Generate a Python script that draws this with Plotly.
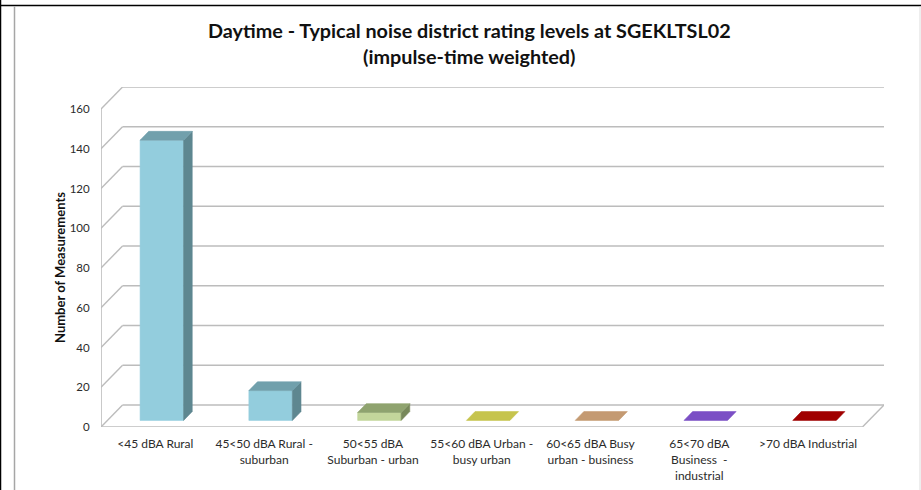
import plotly.graph_objects as go

# ---------------- data ----------------
categories = [
    "&lt;45 dBA Rural",
    "45&lt;50 dBA Rural -<br>suburban",
    "50&lt;55 dBA<br>Suburban - urban",
    "55&lt;60 dBA Urban -<br>busy urban",
    "60&lt;65 dBA Busy<br>urban - business",
    "65&lt;70 dBA<br>Business  -<br>industrial",
    "&gt;70 dBA Industrial",
]
values = [141, 15, 4, 0, 0, 0, 0]
front_colors = ["#93CDDD", "#93CDDD", "#C3D69B", "#C6C44D", "#C49A72", "#7B4FC5", "#A00000"]
top_colors = ["#71A0AC", "#71A0AC", "#8FA36F", "#C6C44D", "#C49A72", "#7B4FC5", "#A00000"]
side_colors = ["#5E8790", "#5E8790", "#77885A", "#A4A23F", "#A3805F", "#6641A4", "#850000"]
y_ticks = [0, 20, 40, 60, 80, 100, 120, 140, 160]
title_line1 = "Daytime - Typical noise district rating levels at SGEKLTSL02"
title_line2 = "(impulse-time weighted)"
y_title = "Number of Measurements"

# ---------------- geometry ----------------
W, H = 921, 490
L, R, T, B = 101, 37, 87, 63
YMAX = max(y_ticks)
DX = 0.198    # depth offset in category units
DY = 11.07    # depth offset in value units
XMIN, XMAX = -0.5, len(categories) - 0.5
HALF = 0.2    # half bar width
D0, D1 = 0.3, 0.7  # bar depth extent (fraction of full depth)

PW = W - L - R
PH = H - T - B


def px_x(px):
    return (px - L) / PW


def px_y(py):
    return (H - B - py) / PH


fig = go.Figure()

# bars as oblique-projected prisms
for i, v in enumerate(values):
    x0 = i - HALF
    x1 = i + HALF
    fx0, fx1 = x0 + D0 * DX, x1 + D0 * DX
    bx0, bx1 = x0 + D1 * DX, x1 + D1 * DX
    fy0, fy1 = D0 * DY, v + D0 * DY
    by0, by1 = D1 * DY, v + D1 * DY
    faces = []
    if v > 0:
        faces.append(([fx0, fx1, fx1, fx0, fx0], [fy0, fy0, fy1, fy1, fy0], front_colors[i]))
        faces.append(([fx1, bx1, bx1, fx1, fx1], [fy0, by0, by1, fy1, fy0], side_colors[i]))
    faces.append(([fx0, fx1, bx1, bx0, fx0], [fy1, fy1, by1, by1, fy1], top_colors[i]))
    for xs, ys, col in faces:
        fig.add_trace(go.Scatter(
            x=xs, y=ys, mode="lines", fill="toself", fillcolor=col,
            line=dict(color=col, width=0.6), hoverinfo="skip", showlegend=False,
        ))

shapes = []
grid_col = "#BCBCBC"
# back-wall gridlines and depth connectors
for t in y_ticks:
    shapes.append(dict(type="line", xref="x", yref="y", x0=XMIN + DX, y0=t + DY,
                       x1=XMAX + DX, y1=t + DY, line=dict(color=grid_col, width=1.4), layer="below"))
    shapes.append(dict(type="line", xref="x", yref="y", x0=XMIN, y0=t,
                       x1=XMIN + DX, y1=t + DY, line=dict(color=grid_col, width=1.4), layer="below"))
# front value axis line
shapes.append(dict(type="line", xref="x", yref="y", x0=XMIN, y0=0, x1=XMIN, y1=YMAX,
                   line=dict(color=grid_col, width=1.6), layer="below"))
# floor front edge and right edge
shapes.append(dict(type="line", xref="x", yref="y", x0=XMIN, y0=0, x1=XMAX, y1=0,
                   line=dict(color=grid_col, width=1.6), layer="below"))
shapes.append(dict(type="line", xref="x", yref="y", x0=XMAX, y0=0, x1=XMAX + DX, y1=DY,
                   line=dict(color=grid_col, width=1.4), layer="below"))

# outer borders
shapes.append(dict(type="line", xref="paper", yref="paper", x0=px_x(0.5), y0=px_y(0), x1=px_x(0.5), y1=px_y(H),
                   line=dict(color="black", width=1.5)))
shapes.append(dict(type="line", xref="paper", yref="paper", x0=px_x(0), y0=px_y(5.5), x1=px_x(W), y1=px_y(5.5),
                   line=dict(color="black", width=1.6)))
shapes.append(dict(type="line", xref="paper", yref="paper", x0=px_x(14.5), y0=px_y(6.5), x1=px_x(14.5), y1=px_y(H),
                   line=dict(color="#A6A6A6", width=1.5)))
shapes.append(dict(type="line", xref="paper", yref="paper", x0=px_x(920), y0=px_y(6.5), x1=px_x(920), y1=px_y(H),
                   line=dict(color="#DDDDDD", width=1)))

annotations = [
    dict(text="<b>%s</b>" % title_line1, xref="paper", yref="paper", x=px_x(469), y=px_y(30),
         xanchor="center", yanchor="middle", showarrow=False,
         font=dict(family="Lato", size=19.8, color="#111111")),
    dict(text="<b>%s</b>" % title_line2, xref="paper", yref="paper", x=px_x(469), y=px_y(56),
         xanchor="center", yanchor="middle", showarrow=False,
         font=dict(family="Lato", size=19.8, color="#111111")),
    dict(text="<b>%s</b>" % y_title, xref="paper", yref="paper", x=px_x(60), y=px_y(268),
         xanchor="center", yanchor="middle", textangle=-90, showarrow=False,
         font=dict(family="Lato", size=13, color="#111111")),
]

fig.update_layout(
    width=W, height=H,
    margin=dict(l=L, r=R, t=T, b=B, pad=0, autoexpand=False),
    paper_bgcolor="white", plot_bgcolor="white",
    shapes=shapes, annotations=annotations,
    font=dict(family="Lato", size=11, color="#333333"),
    xaxis=dict(range=[XMIN, XMAX + DX], tickvals=list(range(len(categories))), ticktext=categories,
               showgrid=False, zeroline=False, showline=False, ticks="outside", ticklen=6,
               tickcolor="rgba(0,0,0,0)", fixedrange=True, automargin=False,
               tickfont=dict(family="Lato", size=12, color="#2b2b2b")),
    yaxis=dict(range=[0, YMAX + DY], tickvals=y_ticks, showgrid=False, zeroline=False, showline=False,
               ticks="outside", ticklen=8, tickcolor="rgba(0,0,0,0)", fixedrange=True, automargin=False,
               tickfont=dict(family="Lato", size=11.5, color="#2b2b2b")),
    showlegend=False,
)

fig.write_html("out.html", config={"displayModeBar": False},
               post_script="document.body.style.margin='0';document.body.style.overflow='hidden';")
